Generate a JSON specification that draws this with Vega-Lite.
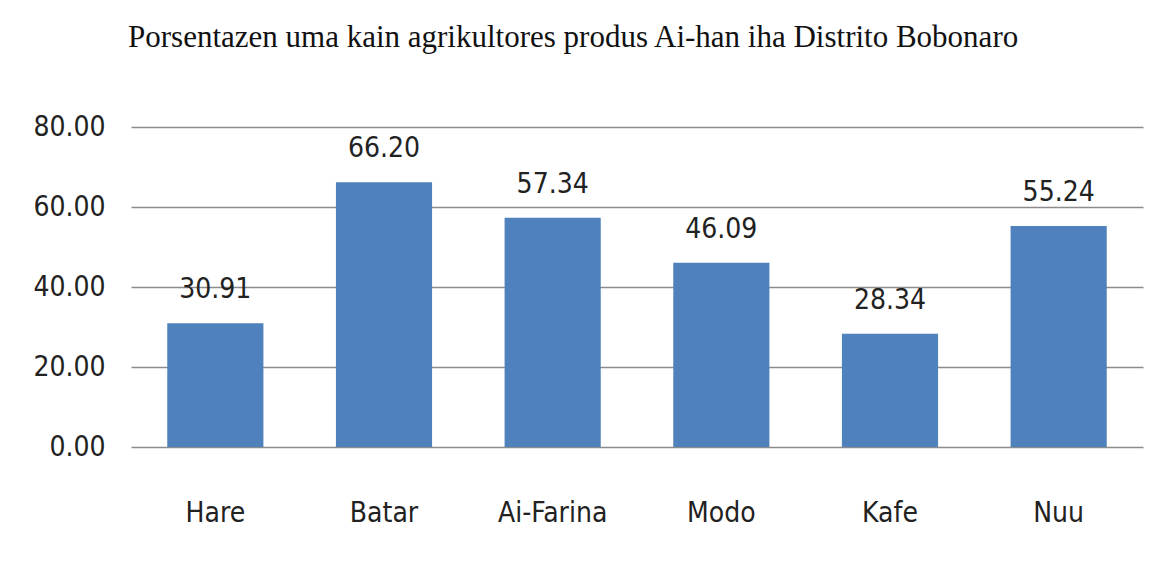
{
  "$schema": "https://vega.github.io/schema/vega-lite/v6.json",
  "autosize": {"type": "none"},
  "width": 1012,
  "height": 320,
  "padding": {"left": 131, "top": 127, "right": 25, "bottom": 120},
  "background": "white",
  "title": {
    "text": "Porsentazen uma kain agrikultores produs Ai-han iha Distrito Bobonaro",
    "anchor": "start",
    "frame": "group",
    "dx": -3,
    "offset": 35,
    "baseline": "alphabetic",
    "font": "Liberation Serif",
    "fontSize": 31,
    "fontWeight": "normal",
    "color": "#111111"
  },
  "data": {
    "values": [
      {"ai_han": "Hare", "porsentu": 30.91},
      {"ai_han": "Batar", "porsentu": 66.20},
      {"ai_han": "Ai-Farina", "porsentu": 57.34},
      {"ai_han": "Modo", "porsentu": 46.09},
      {"ai_han": "Kafe", "porsentu": 28.34},
      {"ai_han": "Nuu", "porsentu": 55.24}
    ]
  },
  "encoding": {
    "x": {
      "field": "ai_han",
      "type": "nominal",
      "sort": null,
      "scale": {"paddingInner": 0.43, "paddingOuter": 0.215},
      "axis": {
        "title": null,
        "labelAngle": 0,
        "ticks": false,
        "domain": false,
        "labelBaseline": "alphabetic",
        "labelPadding": 74,
        "labelFont": "DejaVu Sans Condensed, sans-serif",
        "labelFontSize": 28,
        "labelColor": "#222222"
      }
    },
    "y": {
      "field": "porsentu",
      "type": "quantitative",
      "scale": {"domain": [0, 80]},
      "axis": {
        "title": null,
        "values": [0, 20, 40, 60, 80],
        "format": ".2f",
        "ticks": false,
        "domain": false,
        "grid": true,
        "gridColor": "#8c8c8c",
        "gridWidth": 1.5,
        "labelPadding": 26,
        "labelFont": "DejaVu Sans Condensed, sans-serif",
        "labelFontSize": 28,
        "labelColor": "#222222"
      }
    }
  },
  "layer": [
    {"mark": {"type": "bar", "color": "#4f81bd"}},
    {
      "mark": {
        "type": "text",
        "baseline": "alphabetic",
        "dy": -25,
        "font": "DejaVu Sans Condensed, sans-serif",
        "fontSize": 28,
        "color": "#222222"
      },
      "encoding": {"text": {"field": "porsentu", "type": "quantitative", "format": ".2f"}}
    }
  ],
  "config": {"view": {"stroke": null}}
}
